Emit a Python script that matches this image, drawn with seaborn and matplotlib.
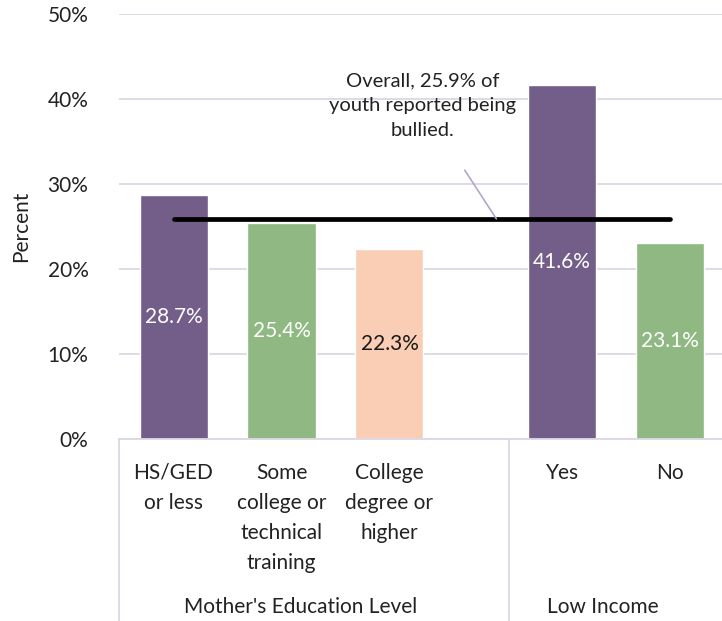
import numpy as np
import pandas as pd
import seaborn as sns
import matplotlib.pyplot as plt
import matplotlib.transforms as mtransforms

categories = ["HS/GED\nor less", "Some\ncollege or\ntechnical\ntraining",
              "College\ndegree or\nhigher", "Yes", "No"]
positions = [0, 1, 2, 3.6, 4.6]
percent = [28.7, 25.4, 22.3, 41.6, 23.1]
groups = ["Mother's Education Level", "Low Income"]
group_spans = [(-0.505, 3.106), (3.106, 5.08)]
overall = 25.9

colors = ["#725E88", "#8FB882", "#FACDB5", "#725E88", "#8FB882"]
label_colors = ["white", "white", "#1a1a1a", "white", "white"]

df = pd.DataFrame({"pos": positions, "percent": percent, "cat": categories})

sns.set_style("white")
plt.rcParams['font.family'] = ['Lato', 'DejaVu Sans']
fs = 15

fig = plt.figure(figsize=(7.22, 6.21), dpi=100)
W, H = 722, 621
ax = fig.add_axes([119 / W, (H - 439) / H, (722 - 119) / W, (439 - 14) / H])

sns.barplot(data=df, x="pos", y="percent", hue="cat", palette=colors,
            native_scale=True, width=0.63, legend=False, ax=ax, saturation=1)

ax.set_xlim(-0.505, 5.08)
ax.set_ylim(0, 50)
ax.set_yticks(np.arange(0, 51, 10))
ax.set_yticklabels([f"{v}%" for v in range(0, 51, 10)], fontsize=fs, color="#222222")
ax.yaxis.grid(True, color="#DDD7E4", lw=1.3)
ax.set_axisbelow(True)
ax.tick_params(axis="y", length=0, pad=22)
ax.set_xticks(positions)
ax.set_xticklabels(categories, fontsize=fs, color="#222222", linespacing=1.64, va="top")
ax.tick_params(axis="x", length=0, pad=17)
ax.set_xlabel("")
ax.set_ylabel("Percent", fontsize=fs, color="#222222", labelpad=12)
for s in ["left", "right", "top"]:
    ax.spines[s].set_visible(False)
ax.spines["bottom"].set_color("#DDD7E4")
ax.spines["bottom"].set_linewidth(1.3)

for cont, lc in zip(ax.containers, label_colors):
    lbls = ax.bar_label(cont, fmt="%.1f%%", label_type="center", fontsize=fs)
    for t in lbls:
        t.set_color(lc)

# overall line
ax.plot([positions[0], positions[-1]], [overall, overall], color="black", lw=3.4,
        solid_capstyle="round", zorder=5)
ax.annotate(f"Overall, {overall}% of\nyouth reported being\nbullied.",
            xy=(2.99, overall), xytext=(2.31, 39.2), ha="center", va="center",
            fontsize=14.5, color="#222222", linespacing=1.55,
            arrowprops=dict(arrowstyle="-", color="#B3A6CC", lw=1.2,
                            shrinkA=24, shrinkB=0), zorder=6)

# group labels and separators
trans = mtransforms.blended_transform_factory(ax.transData, ax.transAxes)
bottom = -(H - 439) / (439 - 14)
for name, (a, b) in zip(groups, group_spans):
    ax.plot([a, a], [0, bottom], transform=trans, color="#DDD7E4", lw=1.3, clip_on=False)
    ax.text((a + b) / 2 - 0.12, -0.395, name, transform=trans, ha="center", va="center",
            fontsize=fs, color="#222222")

fig.savefig("out.png", dpi=100)
